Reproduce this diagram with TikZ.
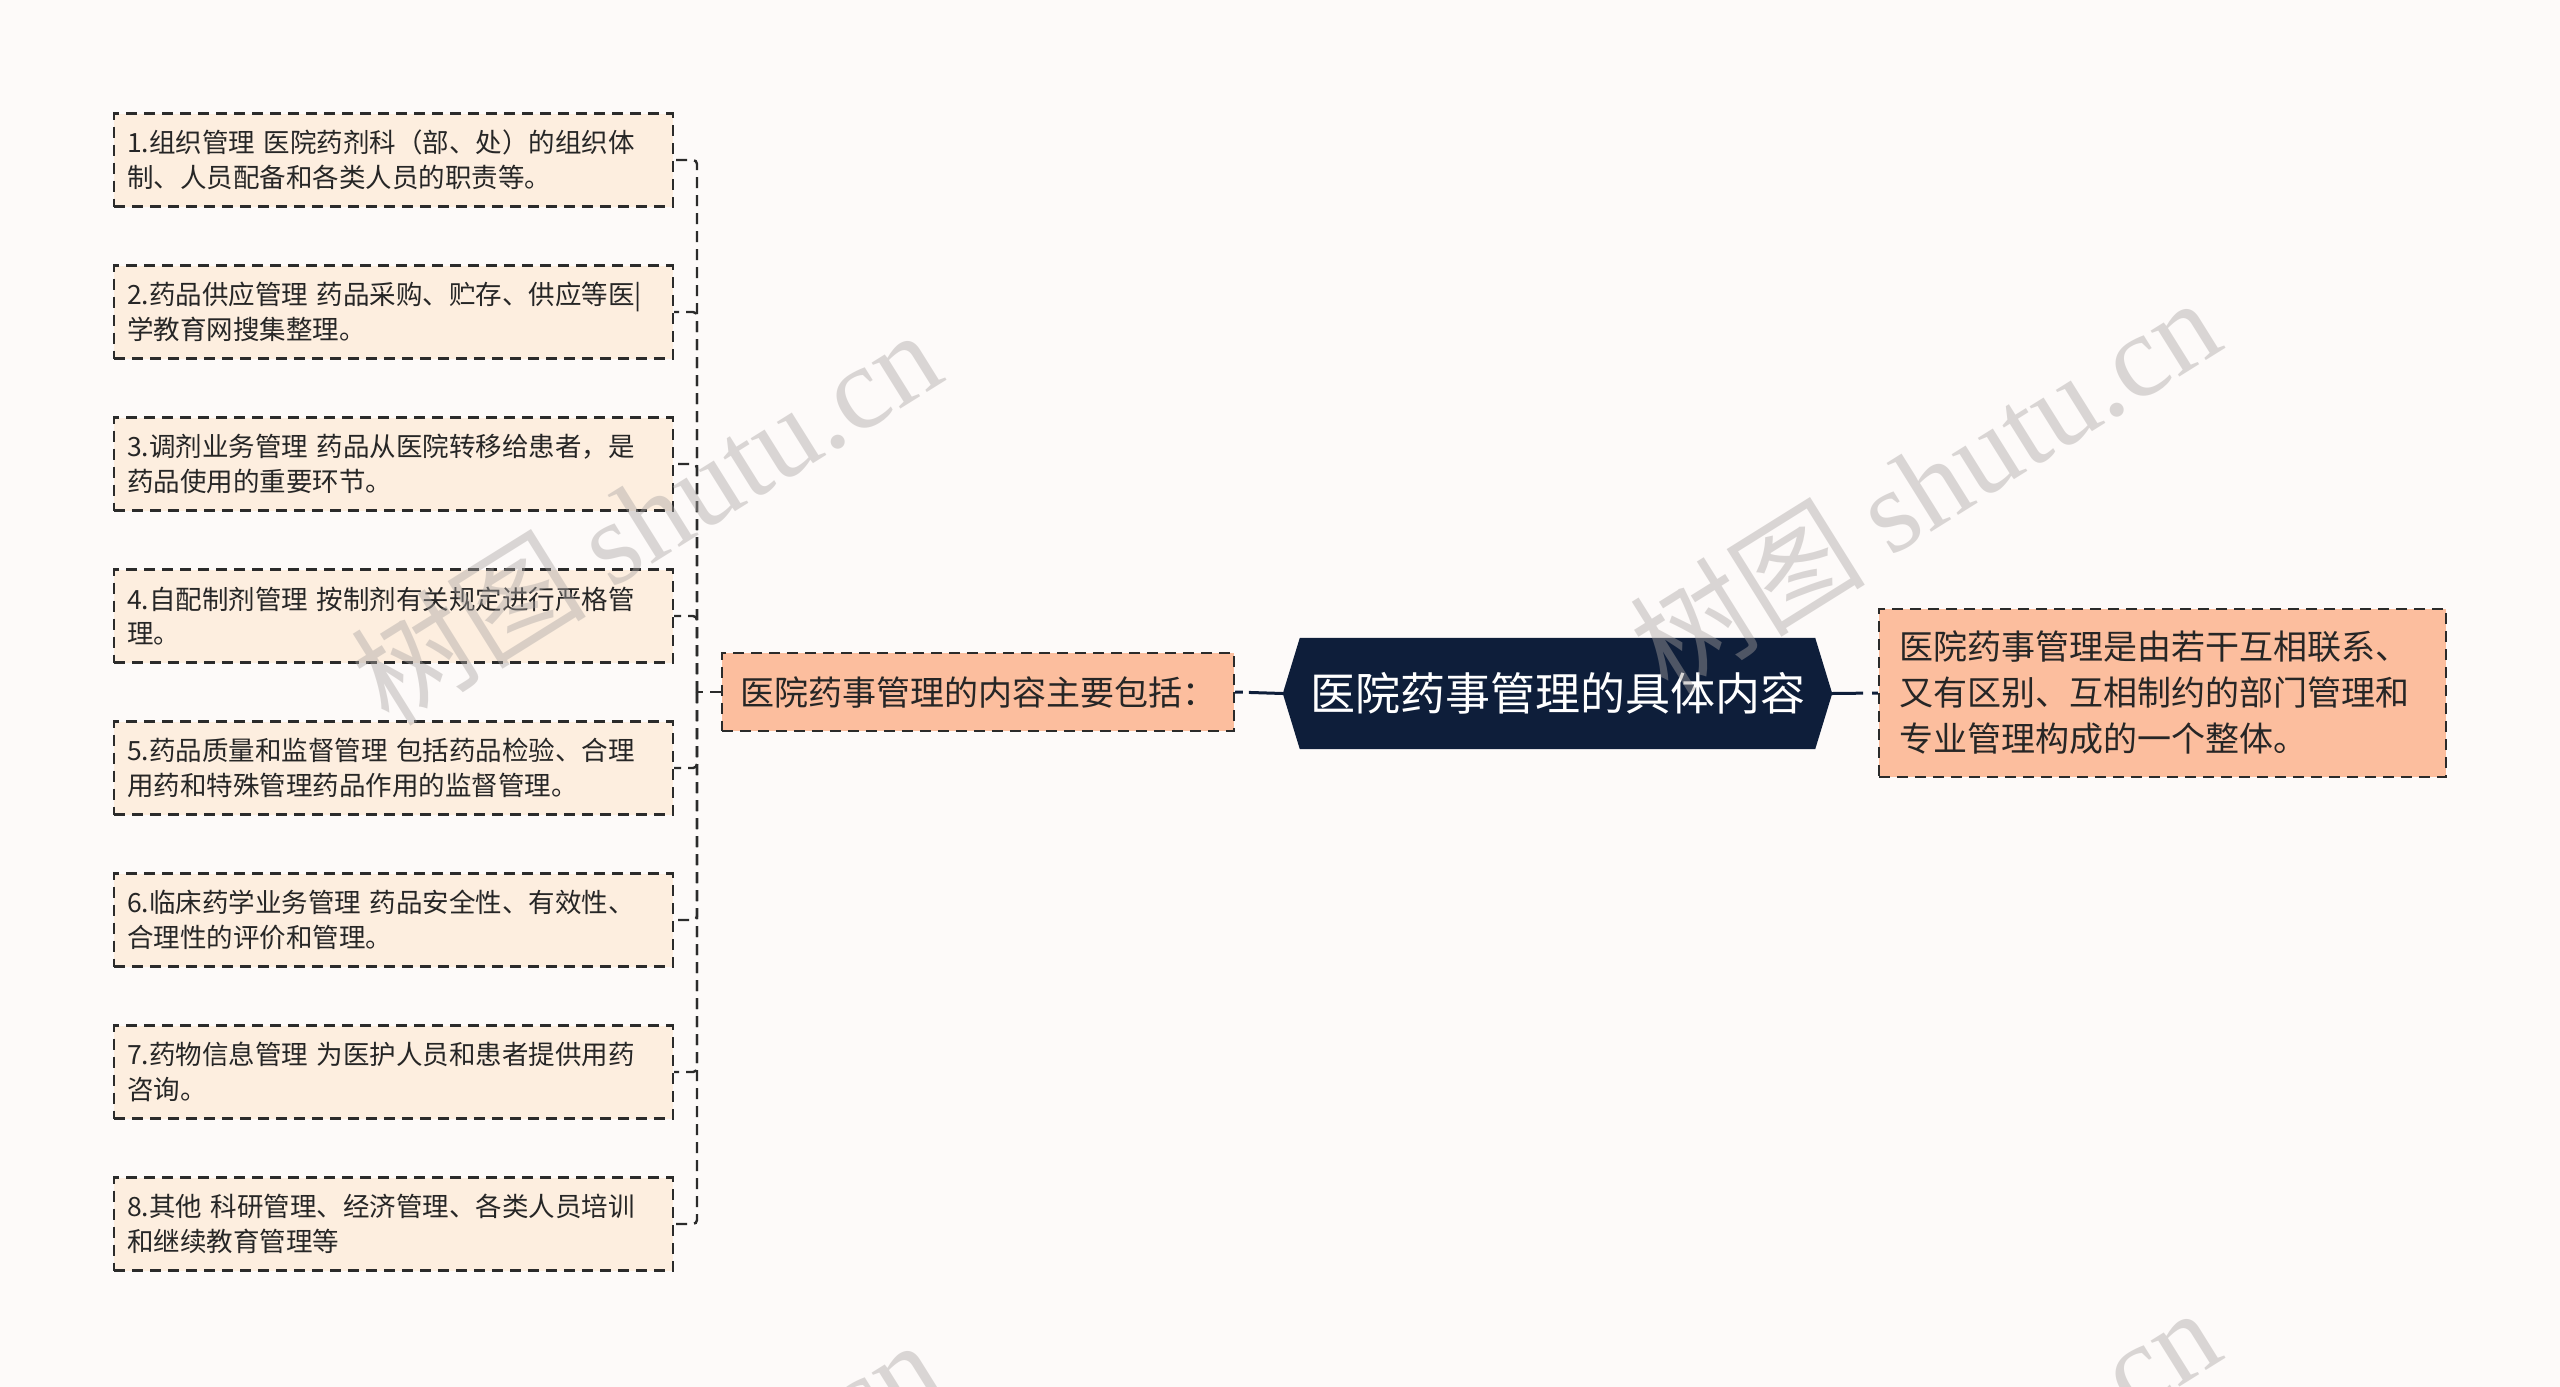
\documentclass[tikz,border=0pt]{standalone}
\usepackage{fontspec}
\setmainfont{Noto Sans CJK SC}
\newfontfamily\wmlatin{Liberation Serif}
\usetikzlibrary{backgrounds}
\definecolor{bgc}{HTML}{FDFAF9}
\definecolor{childfill}{HTML}{FDEEDF}
\definecolor{mainfill}{HTML}{FCBE9E}
\definecolor{navy}{HTML}{0E1E3A}
\definecolor{linec}{HTML}{2B2B2B}
\definecolor{wmc}{HTML}{A9A4A2}
\begin{document}
\begin{tikzpicture}[x=1pt,y=-1pt,
  box/.style={draw=linec, line width=2.4pt, dash pattern=on 11pt off 7pt, align=left, anchor=center, inner ysep=0pt, text=black!85},
  childbox/.style={box, fill=childfill, text width=533pt, inner xsep=13pt, minimum height=93pt, font=\fontsize{26.5}{34.5}\selectfont},
  mainbox/.style={box, fill=mainfill, font=\fontsize{34}{46}\selectfont},
  centerbox/.style={text=white, inner sep=0pt, minimum width=549pt, minimum height=111pt, font=\fontsize{45}{50}\selectfont},
  dashline/.style={draw=linec, line width=2.4pt, dash pattern=on 11pt off 7pt},
  conn/.style={draw=navy, line width=3pt},
  wm/.style={rotate=32, text=wmc, opacity=0.42, font=\fontsize{118}{118}\selectfont}
]
\useasboundingbox (0,0) rectangle (2560,1387);

\node[centerbox] (c) at (1557.5,693.5) {医院药事管理的具体内容};
\node[mainbox, text width=476pt, inner xsep=18pt, minimum height=78pt] (p) at (978,692) {医院药事管理的内容主要包括：};
\node[mainbox, text width=527pt, inner xsep=20pt, minimum height=168pt] (r) at (2162.5,693) {医院药事管理是由若干互相联系、\\又有区别、互相制约的部门管理和\\专业管理构成的一个整体。};

\node[childbox] (c1) at (393.5,160) {1.组织管理 医院药剂科（部、处）的组织体\\制、人员配备和各类人员的职责等。};
\node[childbox] (c2) at (393.5,312) {2.药品供应管理 药品采购、贮存、供应等医|\\学教育网搜集整理。};
\node[childbox] (c3) at (393.5,464) {3.调剂业务管理 药品从医院转移给患者，是\\药品使用的重要环节。};
\node[childbox] (c4) at (393.5,616) {4.自配制剂管理 按制剂有关规定进行严格管\\理。};
\node[childbox] (c5) at (393.5,768) {5.药品质量和监督管理 包括药品检验、合理\\用药和特殊管理药品作用的监督管理。};
\node[childbox] (c6) at (393.5,920) {6.临床药学业务管理 药品安全性、有效性、\\合理性的评价和管理。};
\node[childbox] (c7) at (393.5,1072) {7.药物信息管理 为医护人员和患者提供用药\\咨询。};
\node[childbox] (c8) at (393.5,1224) {8.其他 科研管理、经济管理、各类人员培训\\和继续教育管理等};

\begin{scope}[on background layer]
  \fill[bgc] (0,0) rectangle (2560,1387);
  \fill[navy] ([xshift=17pt]c.north west) -- ([xshift=-17pt]c.north east) -- (c.east)
    -- ([xshift=-17pt]c.south east) -- ([xshift=17pt]c.south west) -- (c.west) -- cycle;
\end{scope}

% connectors
\draw[conn, dash pattern=on 34pt off 6pt on 9pt off 30pt] (c.west) -- (p.east);
\draw[conn, dash pattern=on 31pt off 9pt on 8pt off 30pt] (c.east) -- (r.west);
\coordinate (t) at (697,692);
\draw[dashline] (p.west) -- (t);
\foreach \i in {1,...,8}{
  \draw[dashline, rounded corners=4pt] (t) |- (c\i.east);
}

% watermarks
\node[wm] (w1) at (645,516) {树图 {\wmlatin shutu.cn}};
\node[wm] (w2) at (1924,484) {树图 {\wmlatin shutu.cn}};
\node[wm] (w3) at (645,1526) {树图 {\wmlatin shutu.cn}};
\node[wm] (w4) at (1924,1494) {树图 {\wmlatin shutu.cn}};
\end{tikzpicture}
\end{document}
